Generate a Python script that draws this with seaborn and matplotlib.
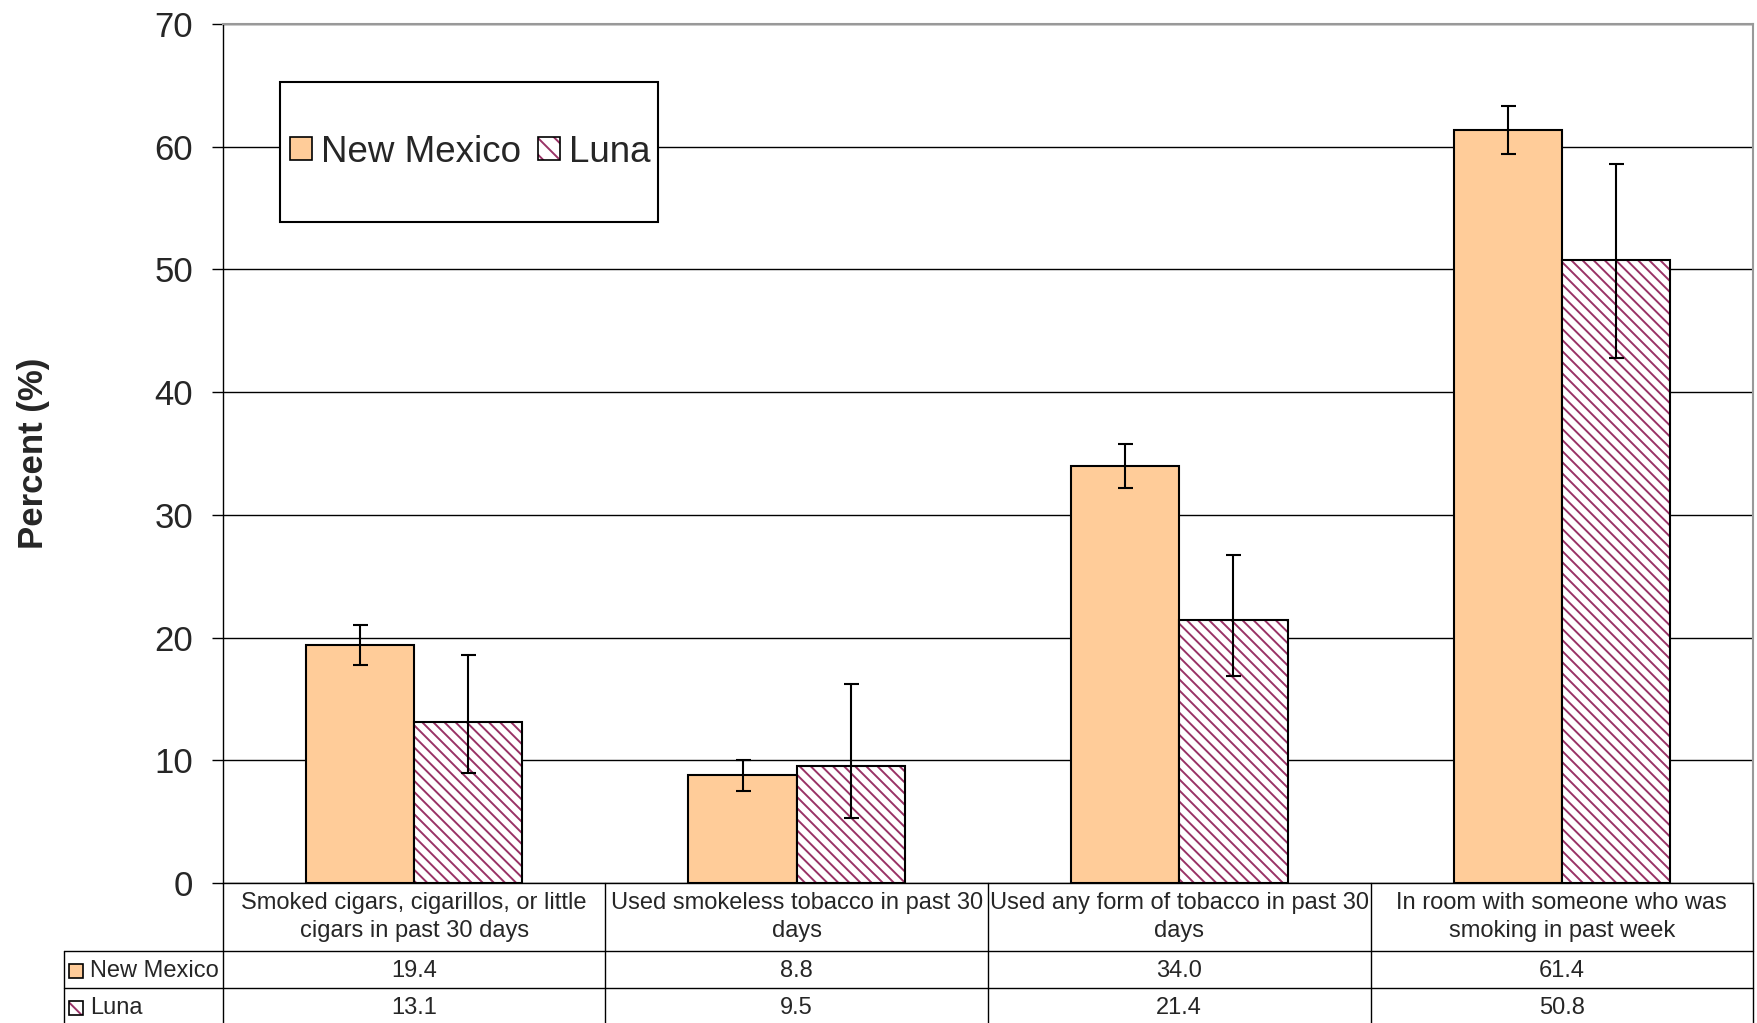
import numpy as np
import pandas as pd
import matplotlib.pyplot as plt
import matplotlib.transforms as mtransforms
from matplotlib.patches import Rectangle, Patch
import seaborn as sns

categories = [
    "Smoked cigars, cigarillos, or little\ncigars in past 30 days",
    "Used smokeless tobacco in past 30\ndays",
    "Used any form of tobacco in past 30\ndays",
    "In room with someone who was\nsmoking in past week",
]
series = ["New Mexico", "Luna"]
nm_values = [19.4, 8.8, 34.0, 61.4]
luna_values = [13.1, 9.5, 21.4, 50.8]
nm_err_low = [1.6, 1.3, 1.8, 2.0]
nm_err_high = [1.6, 1.2, 1.8, 1.9]
luna_err_low = [4.1, 4.2, 4.5, 8.0]
luna_err_high = [5.5, 6.7, 5.3, 7.8]
y_ticks = [0, 10, 20, 30, 40, 50, 60, 70]

nm_color = "#FFCC99"
luna_hatch_color = "#993366"
hatch = "\\\\\\"

df = pd.DataFrame({
    "category": categories * 2,
    "series": [series[0]] * 4 + [series[1]] * 4,
    "value": nm_values + luna_values,
})

sns.set_style("white")
plt.rcParams['font.family'] = ['Liberation Sans', 'DejaVu Sans']
plt.rcParams['hatch.linewidth'] = 1.4
table_fs = 17

fig = plt.figure(figsize=(17.58, 10.23), dpi=100)
ax = fig.add_axes([0.1268, 0.1369, 0.8704, 0.8396])
ax.set_axisbelow(True)

sns.barplot(data=df, x="category", y="value", hue="series", hue_order=series,
            palette={"New Mexico": nm_color, "Luna": "white"}, width=0.566,
            saturation=1, errorbar=None, edgecolor="black", linewidth=1.5,
            legend=False, ax=ax, zorder=3)

nm_bars, luna_bars = ax.containers[0], ax.containers[1]
for b in luna_bars:
    b.set_hatch(hatch)
    b.set_edgecolor(luna_hatch_color)
    b.set_linewidth(0)
    ax.add_patch(Rectangle(b.get_xy(), b.get_width(), b.get_height(), fill=False,
                           edgecolor="black", lw=1.5, zorder=4))

x_nm = [b.get_x() + b.get_width() / 2 for b in nm_bars]
x_luna = [b.get_x() + b.get_width() / 2 for b in luna_bars]
ax.errorbar(x_nm, nm_values, yerr=[nm_err_low, nm_err_high], fmt='none', ecolor='black',
            elinewidth=1.5, capsize=5.4, capthick=1.5, zorder=5)
ax.errorbar(x_luna, luna_values, yerr=[luna_err_low, luna_err_high], fmt='none', ecolor='black',
            elinewidth=1.5, capsize=5.4, capthick=1.5, zorder=5)

ax.set_xlim(-0.5, 3.5)
ax.set_ylim(0, 70)
ax.set_yticks(y_ticks)
ax.set_xticks(range(4))
ax.set_xticklabels([])
ax.set_xlabel("")
ax.tick_params(axis='y', left=True, direction='out', length=8, width=1, labelsize=25,
               pad=13.5, color='black')
ax.tick_params(axis='x', bottom=False)
ax.yaxis.grid(True, color='black', lw=1)
ax.xaxis.grid(False)
for s in ['left', 'bottom']:
    ax.spines[s].set_color('black')
    ax.spines[s].set_linewidth(1)
for s in ['top', 'right']:
    ax.spines[s].set_color('#999999')
    ax.spines[s].set_linewidth(1.5)

ax.set_ylabel("Percent (%)", fontsize=25, fontweight='bold')
ax.yaxis.set_label_coords(-0.113, 0.5)

# legend with its own (taller) frame
ax.add_patch(Rectangle((0.0373, 0.7695), 0.247, 0.163, transform=ax.transAxes,
                       facecolor='white', edgecolor='black', lw=1.5, zorder=6))
h_nm = Patch(facecolor=nm_color, edgecolor='black', lw=1.2)
h_luna = (Patch(facecolor='white', edgecolor=luna_hatch_color, hatch="\\\\", lw=0),
          Patch(fill=False, edgecolor='black', lw=1.2))
leg = ax.legend([h_nm, h_luna], series, loc='center', bbox_to_anchor=(0.1615, 0.851),
                ncol=2, frameon=False, fontsize=26.5, handlelength=0.6, handleheight=0.6,
                handletextpad=0.25, columnspacing=0.45, borderpad=0)
leg.set_zorder(7)

# data table below the plot
blend = mtransforms.blended_transform_factory(ax.transData, ax.transAxes)
line_kw = dict(transform=blend, clip_on=False, color='black', lw=1)
x_left = -0.9157
y_head, y_row = -0.0792, -0.1222
ax.plot([x_left, 3.5], [y_head, y_head], **line_kw)
ax.plot([x_left, 3.5], [y_row, y_row], **line_kw)
ax.plot([x_left, x_left], [y_head, -0.2], **line_kw)
for xv in [-0.5, 0.5, 1.5, 2.5, 3.5]:
    ax.plot([xv, xv], [0, -0.2], **line_kw)

for i, cat in enumerate(categories):
    ax.text(i, -0.0396, cat, transform=blend, ha='center', va='center',
            fontsize=table_fs, linespacing=1.35)
    ax.text(i, -0.1022, f"{nm_values[i]:.1f}", transform=blend, ha='center', va='center',
            fontsize=table_fs)
    ax.text(i, -0.1453, f"{luna_values[i]:.1f}", transform=blend, ha='center', va='center',
            fontsize=table_fs)

sq_w, sq_h = 14 / 382.5, 14 / 859
for y_c, name, is_luna in [(-0.1022, series[0], False), (-0.1453, series[1], True)]:
    if is_luna:
        ax.add_patch(Rectangle((-0.9026, y_c - sq_h / 2), sq_w, sq_h, transform=blend,
                               facecolor='white', edgecolor=luna_hatch_color, hatch="\\\\",
                               lw=0, clip_on=False))
        ax.add_patch(Rectangle((-0.9026, y_c - sq_h / 2), sq_w, sq_h, transform=blend,
                               fill=False, edgecolor='black', lw=1.2, clip_on=False))
    else:
        ax.add_patch(Rectangle((-0.9026, y_c - sq_h / 2), sq_w, sq_h, transform=blend,
                               facecolor=nm_color, edgecolor='black', lw=1.2, clip_on=False))
    ax.text(-0.8477, y_c, name, transform=blend, ha='left', va='center', fontsize=table_fs)

fig.savefig("out.png", dpi=100)
